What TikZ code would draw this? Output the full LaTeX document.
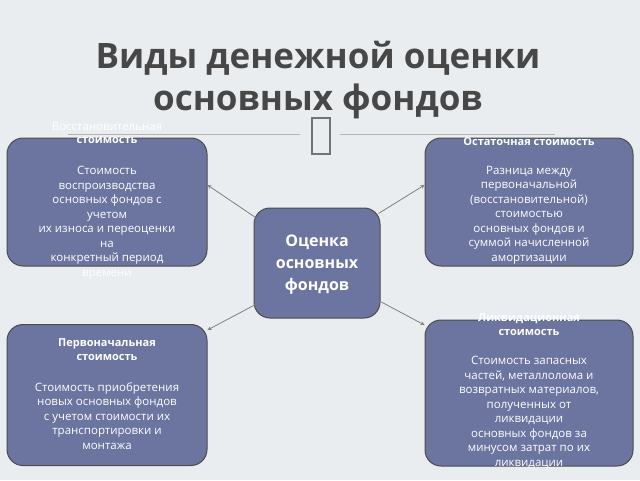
\documentclass[tikz,border=0pt]{standalone}
\usepackage{fontspec}
\setmainfont{Open Sans}
\begin{document}
\begin{tikzpicture}[x=1pt,y=-1pt,
  box/.style={draw=black!70,line width=1pt,fill=boxc,rounded corners=16pt},
  tx/.style={text=white,font=\fontsize{11.5}{14.5}\selectfont,align=center,anchor=north,inner sep=0pt},
  hd/.style={text=white,font=\fontsize{11}{14.5}\selectfont\bfseries,align=center,anchor=north,inner sep=0pt},
  arr/.style={draw=black!50,line width=0.8pt,->,>=stealth}]
\definecolor{boxc}{HTML}{6B759F}
\definecolor{bg}{HTML}{E9EDEF}
\fill[bg] (0,0) rectangle (640,480);
\useasboundingbox (0,0) rectangle (640,480);
\node[font=\fontsize{35}{42}\selectfont\bfseries,text=black!72,align=center] (title) at (318,80) {Виды денежной оценки\\основных фондов};
\draw[black!30,line width=0.8pt] (68,134) -- (300,134) (340,134) -- (555,134);
\draw[black!55,line width=1.5pt] (312,118) rectangle (330,154);
\node[box,minimum width=200pt,minimum height=128pt] (tl) at (107,202) {};
\node[box,minimum width=208pt,minimum height=128pt] (tr) at (529,202) {};
\node[box,minimum width=126pt,minimum height=110pt] (c) at (317,263) {};
\node[box,minimum width=200pt,minimum height=141pt] (bl) at (107,395) {};
\node[box,minimum width=208pt,minimum height=146pt] (br) at (529,393) {};
\node[text=white,font=\fontsize{16}{22}\selectfont\bfseries,align=center] (ct) at (317,265) {Оценка\\основных\\фондов};
\node[tx] (tlh) at (107,122) {Восстановительная};
\node[hd] (tlh2) at (107,137) {стоимость};
\node[tx] (tlb) at (107,166) {Стоимость\\воспроизводства\\основных фондов с\\учетом\\их износа и переоценки\\на\\конкретный период\\времени};
\node[hd] (trh) at (529,137) {Остаточная стоимость};
\node[tx] (trb) at (529,166) {Разница между\\первоначальной\\(восстановительной)\\стоимостью\\основных фондов и\\суммой начисленной\\амортизации};
\node[hd] (blh) at (107,338) {Первоначальная\\стоимость};
\node[tx] (blb) at (107,382) {Стоимость приобретения\\новых основных фондов\\с учетом стоимости их\\транспортировки и\\монтажа};
\node[hd] (brh) at (529,313) {Ликвидационная\\стоимость};
\node[tx] (brb) at (529,356) {Стоимость запасных\\частей, металлолома и\\возвратных материалов,\\полученных от\\ликвидации\\основных фондов за\\минусом затрат по их\\ликвидации};
\draw[arr] (c.north west) ++(2,10) -- (tl.east |- 0,185);
\draw[arr] (c.north east) ++(-2,6) -- (tr.west |- 0,185);
\draw[arr] (c.south west) ++(2,-14) -- (bl.east |- 0,330);
\draw[arr] (c.south east) ++(-2,-18) -- (br.west |- 0,325);
\end{tikzpicture}
\end{document}
